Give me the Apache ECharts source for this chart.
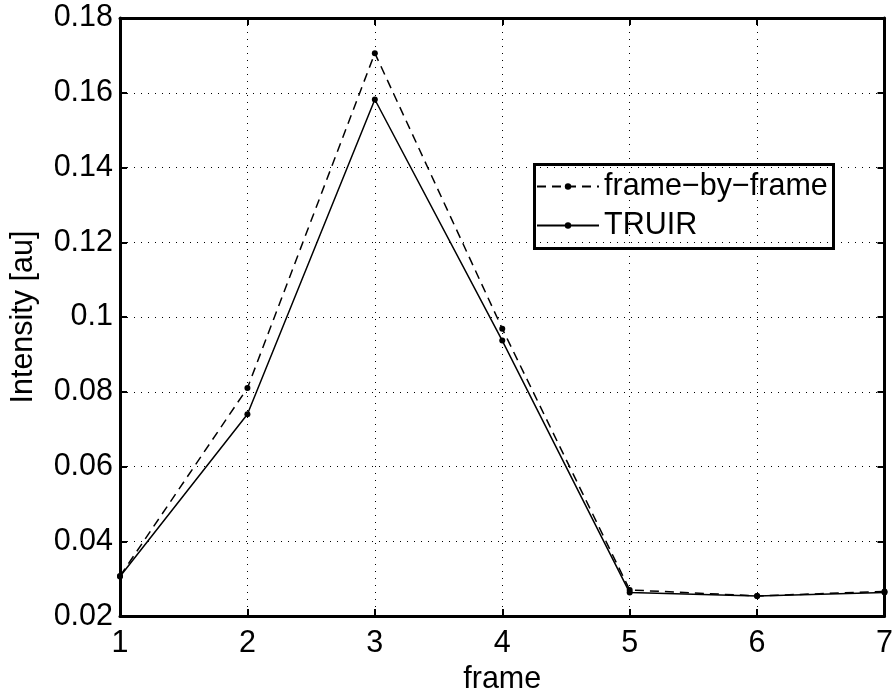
<!DOCTYPE html>
<html>
<head>
<meta charset="utf-8">
<script src="https://cdn.jsdelivr.net/npm/echarts@6/dist/echarts.min.js"></script>
<style>html,body{margin:0;padding:0;background:#fff;}#c{width:896px;height:700px;}</style>
</head>
<body>
<div id="c"></div>
<script>
var frames = [1, 2, 3, 4, 5, 6, 7];
var frameByFrame = [0.0307, 0.0810, 0.1706, 0.0969, 0.0270, 0.0254, 0.0266];
var truir = [0.0306, 0.0740, 0.1582, 0.0937, 0.0263, 0.0254, 0.0263];
var seriesNames = ['frame\u2212by\u2212frame', 'TRUIR'];
var xTitle = 'frame';
var yTitle = 'Intensity [au]';

var FONT = '"Liberation Sans", Arial, Helvetica, sans-serif';
var FS = 30.5;
function pairs(xs, ys){ return xs.map(function(x,i){ return [x, ys[i]]; }); }
function fmtY(v){ return String(parseFloat(v.toFixed(2))); }

var chart = echarts.init(document.getElementById('c'), null, {renderer:'canvas'});
var axisLine = {show:true, lineStyle:{color:'#000', width:3}};
var tick = {show:true, inside:true, length:7, lineStyle:{color:'#000', width:2}};
var split = {show:true, lineStyle:{color:'#000', width:1, type:[1,6]}};

chart.setOption({
  animation:false,
  backgroundColor:'#fff',
  grid:{left:116, right:11, top:18, bottom:77, containLabel:false},
  xAxis:[{
    type:'value', min:1, max:7, interval:1, position:'bottom',
    name:xTitle, nameLocation:'middle', nameGap:42,
    nameTextStyle:{color:'#000', fontSize:FS, fontFamily:FONT},
    axisLine:axisLine, axisTick:tick, splitLine:split,
    axisLabel:{color:'#000', fontSize:FS, fontFamily:FONT, margin:12}
  },{
    type:'value', min:1, max:7, interval:1, position:'top',
    axisLine:axisLine, axisTick:tick, splitLine:{show:false}, axisLabel:{show:false}
  }],
  yAxis:[{
    type:'value', min:0.02, max:0.18, interval:0.02, position:'left',
    name:yTitle, nameLocation:'middle', nameGap:81,
    nameTextStyle:{color:'#000', fontSize:FS, fontFamily:FONT},
    axisLine:axisLine, axisTick:tick, splitLine:split,
    axisLabel:{color:'#000', fontSize:FS, fontFamily:FONT, margin:7, formatter:fmtY}
  },{
    type:'value', min:0.02, max:0.18, interval:0.02, position:'right',
    axisLine:axisLine, axisTick:tick, splitLine:{show:false}, axisLabel:{show:false}
  }],
  legend:{
    show:true, orient:'vertical', left:536, top:171,
    itemWidth:62, itemHeight:8, itemGap:8,
    data:seriesNames,
    textStyle:{color:'#000', fontSize:FS, fontFamily:FONT, lineHeight:31},
    backgroundColor:'transparent', borderWidth:0, padding:0
  },
  graphic:[{
    type:'rect', left:533, top:163, z:0,
    shape:{width:299, height:84},
    style:{fill:'#fff', stroke:'#000', lineWidth:3}
  }],
  series:[{
    name:seriesNames[0], type:'line', data:pairs(frames, frameByFrame),
    symbol:'circle', symbolSize:6, z:3,
    itemStyle:{color:'#000'},
    lineStyle:{color:'#000', width:1.5, type:[9,6]}
  },{
    name:seriesNames[1], type:'line', data:pairs(frames, truir),
    symbol:'circle', symbolSize:6, z:3,
    itemStyle:{color:'#000'},
    lineStyle:{color:'#000', width:1.5, type:'solid'}
  }]
});
</script>
</body>
</html>
